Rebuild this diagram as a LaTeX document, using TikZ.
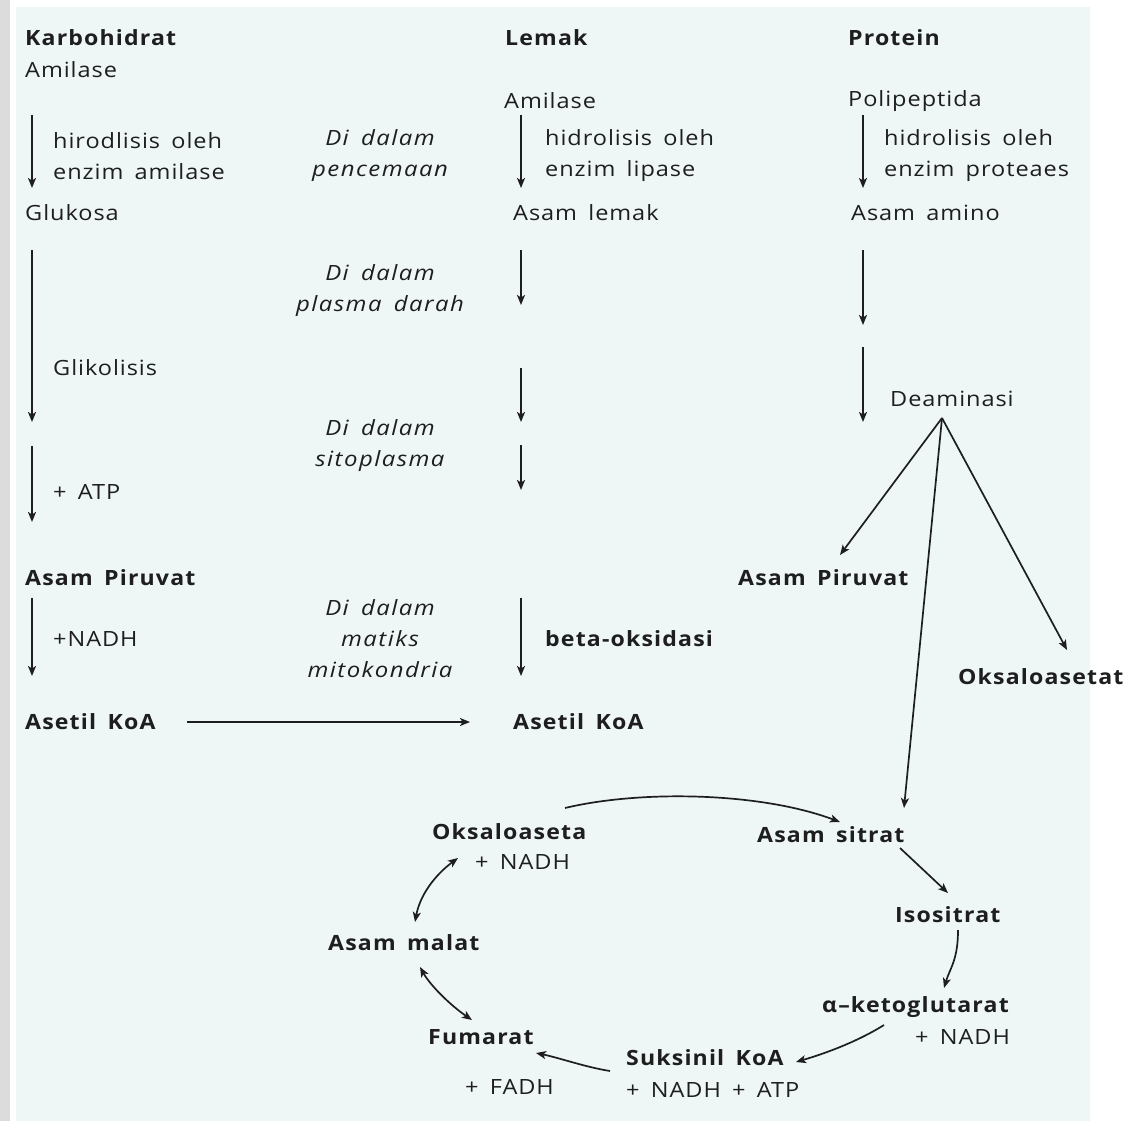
\documentclass[tikz,border=0pt]{standalone}
\usepackage{fontspec}
\setmainfont{Open Sans}[FakeStretch=1.12,LetterSpace=4.5,WordSpace=1.6,
  BoldFeatures={FakeStretch=1.1,LetterSpace=5.5},
  ItalicFeatures={FakeStretch=1.14,LetterSpace=7}]
\usetikzlibrary{arrows.meta}
\definecolor{ink}{HTML}{1E1E1E}
\definecolor{panel}{HTML}{EEF6F6}
\definecolor{strip}{HTML}{DCDCDC}

\begin{document}
\begin{tikzpicture}[x=1pt,y=-1pt,
  txt/.style={anchor=west,inner sep=0pt,text=ink,align=left,font=\fontsize{21}{31}\selectfont},
  btxt/.style={txt,font=\fontsize{21}{31}\selectfont\bfseries},
  place/.style={anchor=center,inner sep=0pt,text=ink,align=center,
    font=\fontsize{21}{31}\selectfont\itshape},
  arr/.style={draw=ink,line width=1.7pt,-{Stealth[length=10pt,width=8pt,inset=2.5pt]}},
  darr/.style={arr,{Stealth[length=10pt,width=8pt,inset=2.5pt]}-{Stealth[length=10pt,width=8pt,inset=2.5pt]}}]

\useasboundingbox (0,0) rectangle (1143,1121);
\fill[white] (0,0) rectangle (1143,1121);
\fill[strip] (0,0) rectangle (10,1121);
\fill[panel] (16,7) rectangle (1090,1121);

% ---------- Karbohidrat ----------
\node[btxt] (karbo) at (25,38) {Karbohidrat};
\node[txt] (amil1) at (25,70) {Amilase};
\node[txt] (hid1) at (53,156) {hirodlisis oleh\\enzim amilase};
\node[txt] (gluk) at (25,213) {Glukosa};
\node[txt] (glik) at (53,368) {Glikolisis};
\node[txt] (atp) at (53,492) {+ ATP};
\node[btxt] (piru1) at (25,578) {Asam Piruvat};
\node[txt] (nadh1) at (53,639) {+NADH};
\node[btxt] (aset1) at (25,722) {Asetil KoA};

\coordinate (k1a) at (32,115); \coordinate (k1b) at (32,188);
\coordinate (k2a) at (32,250); \coordinate (k2b) at (32,422);
\coordinate (k3a) at (32,446); \coordinate (k3b) at (32,522);
\coordinate (k4a) at (32,598); \coordinate (k4b) at (32,676);
\draw[arr] (k1a) -- (k1b);
\draw[arr] (k2a) -- (k2b);
\draw[arr] (k3a) -- (k3b);
\draw[arr] (k4a) -- (k4b);

% ---------- locations ----------
\node[place] (loc1) at (380,156) {Di dalam\\pencemaan};
\node[place] (loc2) at (380,291) {Di dalam\\plasma darah};
\node[place] (loc3) at (380,446) {Di dalam\\sitoplasma};
\node[place] (loc4) at (380,639) {Di dalam\\matiks\\mitokondria};

% ---------- Lemak ----------
\node[btxt] (lemak) at (505,38) {Lemak};
\node[txt] (amil2) at (504,101) {Amilase};
\node[txt] (hid2) at (545,156) {hidrolisis oleh\\enzim lipase};
\node[txt] (asle) at (513,213) {Asam lemak};
\node[btxt] (beta) at (545,639) {beta-oksidasi};
\node[btxt] (aset2) at (513,722) {Asetil KoA};

\coordinate (l1a) at (521,115); \coordinate (l1b) at (521,188);
\coordinate (l2a) at (521,250); \coordinate (l2b) at (521,305);
\coordinate (l3a) at (521,368); \coordinate (l3b) at (521,422);
\coordinate (l4a) at (521,445); \coordinate (l4b) at (521,490);
\coordinate (l5a) at (521,598); \coordinate (l5b) at (521,676);
\draw[arr] (l1a) -- (l1b);
\draw[arr] (l2a) -- (l2b);
\draw[arr] (l3a) -- (l3b);
\draw[arr] (l4a) -- (l4b);
\draw[arr] (l5a) -- (l5b);

\coordinate (ka) at (187,722); \coordinate (kb) at (470,722);
\draw[arr] (ka) -- (kb);

% ---------- Protein ----------
\node[btxt] (prot) at (848,38) {Protein};
\node[txt] (poli) at (848,101) {Polipeptida};
\node[txt] (hid3) at (884,156) {hidrolisis oleh\\enzim proteaes};
\node[txt] (amino) at (851,213) {Asam amino};
\node[txt] (deam) at (890,399) {Deaminasi};
\node[btxt] (piru2) at (738,578) {Asam Piruvat};
\node[btxt] (oksa1) at (958,677) {Oksaloasetat};

\coordinate (p1a) at (863,115); \coordinate (p1b) at (863,188);
\coordinate (p2a) at (863,250); \coordinate (p2b) at (863,325);
\coordinate (p3a) at (863,347); \coordinate (p3b) at (863,422);
\draw[arr] (p1a) -- (p1b);
\draw[arr] (p2a) -- (p2b);
\draw[arr] (p3a) -- (p3b);

\coordinate (apex) at (942,418);
\coordinate (toPiru) at (840,555);
\coordinate (toSit) at (904,808);
\coordinate (toOks) at (1067,650);
\draw[arr] (apex) -- (toPiru);
\draw[arr] (apex) -- (toSit);
\draw[arr] (apex) -- (toOks);

% ---------- Krebs cycle ----------
\node[btxt] (oksa2) at (432,832) {Oksaloaseta};
\node[txt] (nadh2) at (475,862) {+ NADH};
\node[btxt] (sitr) at (757,835) {Asam sitrat};
\node[btxt] (isos) at (895,915) {Isositrat};
\node[btxt] (keto) at (822,1007) {α–ketoglutarat};
\node[txt] (nadh3) at (915,1037) {+ NADH};
\node[btxt] (suks) at (626,1058) {Suksinil KoA};
\node[txt] (nadh4) at (626,1090) {+ NADH + ATP};
\node[btxt] (fuma) at (428,1037) {Fumarat};
\node[txt] (fadh) at (465,1087) {+ FADH};
\node[btxt] (mala) at (328,943) {Asam malat};

\coordinate (c1a) at (565,808); \coordinate (c1b) at (840,822);
\draw[arr] (c1a) .. controls (640,790) and (760,792) .. (c1b);
\coordinate (c2a) at (900,848); \coordinate (c2b) at (948,893);
\draw[arr] (c2a) -- (c2b);
\coordinate (c3a) at (958,930); \coordinate (c3b) at (944,988);
\draw[arr] (c3a) .. controls (958,960) and (950,968) .. (c3b);
\coordinate (c4a) at (884,1025); \coordinate (c4b) at (796,1062);
\draw[arr] (c4a) .. controls (860,1040) and (830,1052) .. (c4b);
\coordinate (c5a) at (610,1071); \coordinate (c5b) at (536,1053);
\draw[arr] (c5a) .. controls (585,1067) and (560,1058) .. (c5b);
\coordinate (c6a) at (420,967); \coordinate (c6b) at (472,1020);
\draw[darr] (c6a) .. controls (430,985) and (450,1005) .. (c6b);
\coordinate (c7a) at (415,922); \coordinate (c7b) at (458,858);
\draw[darr] (c7a) .. controls (420,895) and (435,875) .. (c7b);
\end{tikzpicture}
\end{document}
